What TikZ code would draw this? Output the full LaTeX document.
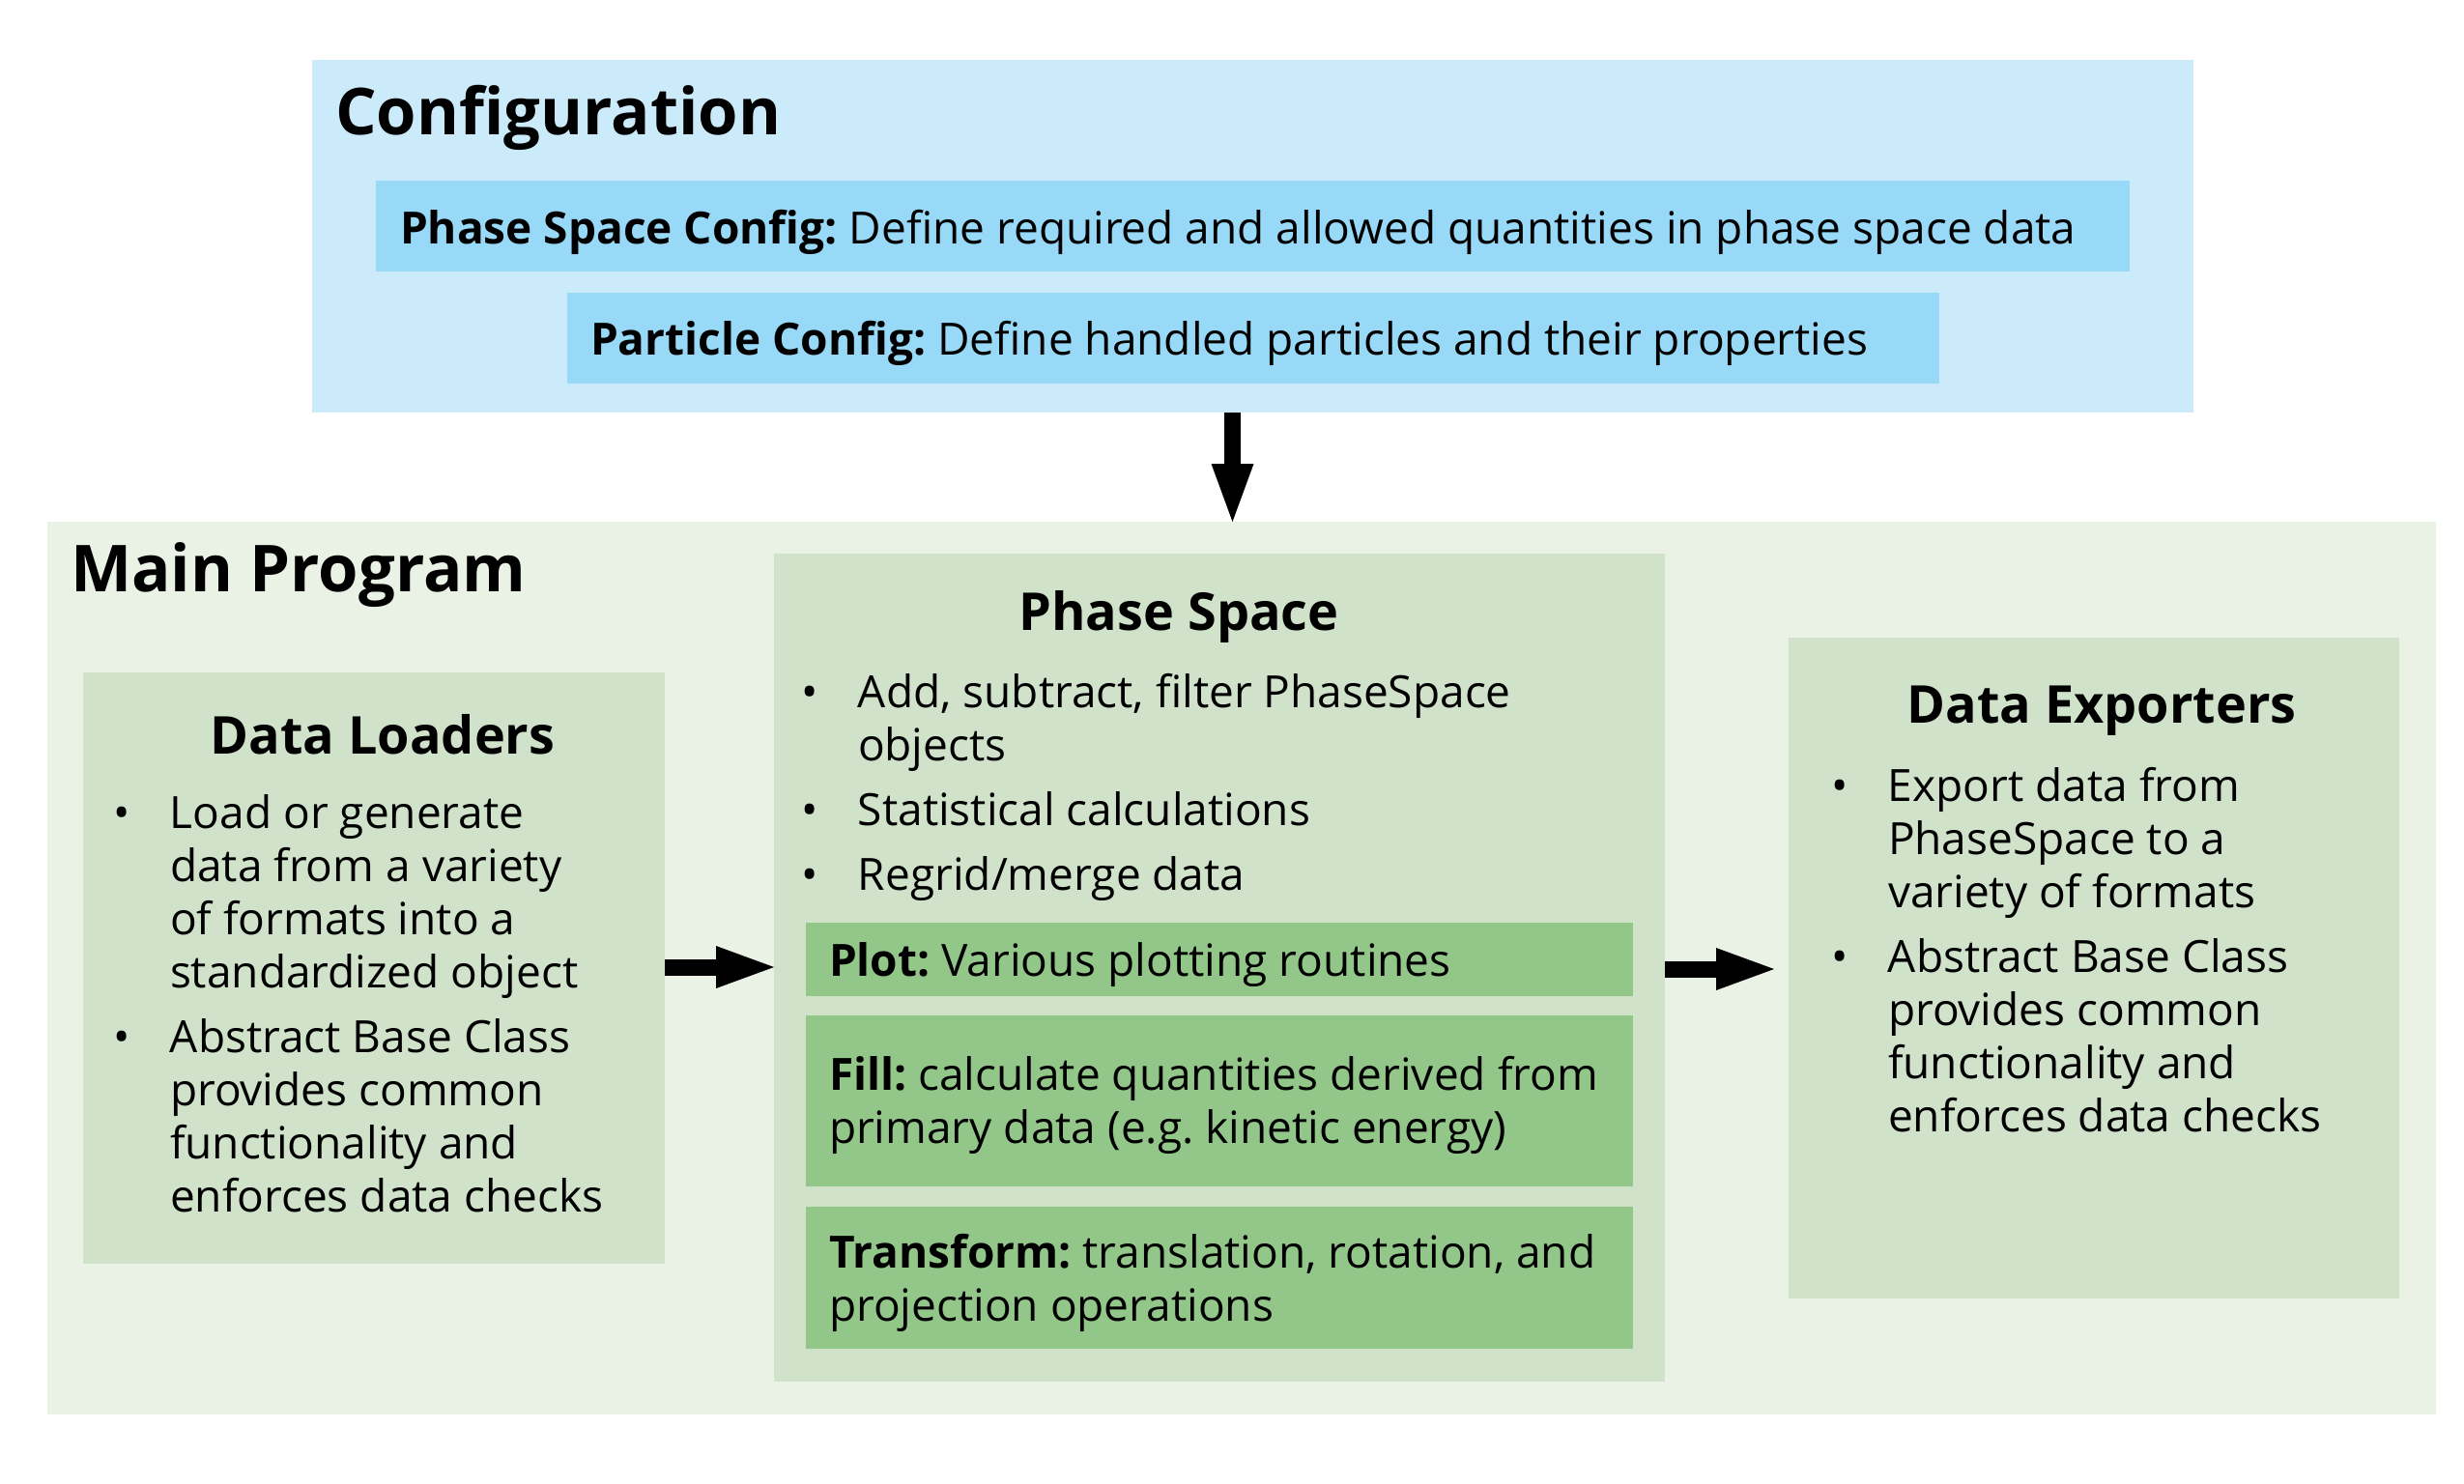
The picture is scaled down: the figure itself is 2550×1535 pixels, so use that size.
\documentclass[tikz,border=0pt]{standalone}
\usepackage{fontspec}
\setmainfont{Open Sans}
\usetikzlibrary{arrows.meta,calc}
\definecolor{cfgouter}{RGB}{204,235,250}
\definecolor{cfginner}{RGB}{151,217,246}
\definecolor{mainbg}{RGB}{234,242,230}
\definecolor{boxbg}{RGB}{208,227,202}
\definecolor{greenbox}{RGB}{147,199,137}
\newcommand{\bulletbox}{\makebox[59pt][l]{•}}
\newcommand{\indentbox}{\hspace*{59pt}}
\frenchspacing
\begin{document}
\frenchspacing
\begin{tikzpicture}[x=1pt,y=-1pt,
  area/.style={anchor=north west, inner sep=0pt, outer sep=0pt, draw=none},
  bodytext/.style={font=\fontsize{46}{55}\selectfont\frenchspacing, inner sep=0pt, outer sep=0pt},
  headtext/.style={font=\fontsize{54}{64}\selectfont\bfseries, inner sep=0pt, anchor=base},
  titletext/.style={font=\fontsize{67}{80}\selectfont\bfseries, inner sep=0pt, anchor=base west},
  bigarrow/.style={line width=17pt, -{Triangle[length=60pt,width=44pt,line width=0pt]}}]
\useasboundingbox (0,0) rectangle (2550,1535);
% boxes
\node[area, fill=cfgouter, minimum width=1947pt, minimum height=365pt] (cfg) at (323,62) {};
\node[area, fill=cfginner, minimum width=1815pt, minimum height=94pt] (pscfg) at (389,187) {};
\node[area, fill=cfginner, minimum width=1420pt, minimum height=94pt] (partcfg) at (587,303) {};
\node[area, fill=mainbg, minimum width=2472pt, minimum height=924pt] (main) at (49,540) {};
\node[area, fill=boxbg, minimum width=602pt, minimum height=612pt] (dl) at (86,696) {};
\node[area, fill=boxbg, minimum width=922pt, minimum height=857pt] (ps) at (801,573) {};
\node[area, fill=boxbg, minimum width=632pt, minimum height=684pt] (de) at (1851,660) {};
\node[area, fill=greenbox, minimum width=856pt, minimum height=76pt] (plot) at (834,955) {};
\node[area, fill=greenbox, minimum width=856pt, minimum height=177pt] (fill) at (834,1051) {};
\node[area, fill=greenbox, minimum width=856pt, minimum height=147pt] (trans) at (834,1249) {};
% titles
\node[titletext] (cfgtitle) at (347,139) {Configuration};
\node[titletext] (maintitle) at (73,612) {Main Program};
% config texts
\node[bodytext, anchor=base west] (pscfgtext) at (414,252) {\textbf{Phase Space Config:} Define required and allowed quantities in phase space data};
\node[bodytext, anchor=base west] (partcfgtext) at (611,367) {\textbf{Particle Config:} Define handled particles and their properties};
% headings
\node[headtext] (pshead) at (1220,652) {Phase Space};
\node[headtext] (dlhead) at (396,780) {Data Loaders};
\node[headtext] (dehead) at (2175,748) {Data Exporters};
% bullet lists
\node[bodytext, anchor=base west] (dllist) at (117,857) {\begin{tabular}[t]{@{}l@{}}
\bulletbox Load or generate\\
\indentbox data from a variety\\
\indentbox of formats into a\\
\indentbox standardized object\\[12pt]
\bulletbox Abstract Base Class\\
\indentbox provides common\\
\indentbox functionality and\\
\indentbox enforces data checks
\end{tabular}};
\node[bodytext, anchor=base west] (pslist) at (829,732) {\begin{tabular}[t]{@{}l@{}}
\bulletbox Add, subtract, filter PhaseSpace\\
\indentbox objects\\[12pt]
\bulletbox Statistical calculations\\[12pt]
\bulletbox Regrid/merge data
\end{tabular}};
\node[bodytext, anchor=base west] (delist) at (1895,829) {\begin{tabular}[t]{@{}l@{}}
\bulletbox Export data from\\
\indentbox PhaseSpace to a\\
\indentbox variety of formats\\[12pt]
\bulletbox Abstract Base Class\\
\indentbox provides common\\
\indentbox functionality and\\
\indentbox enforces data checks
\end{tabular}};
% green box texts
\node[bodytext, anchor=base west] (plottext) at (858,1010) {\textbf{Plot:} Various plotting routines};
\node[bodytext, anchor=base west] (filltext) at (858,1128) {\begin{tabular}[t]{@{}l@{}}
\textbf{Fill:} calculate quantities derived from\\
primary data (e.g. kinetic energy)
\end{tabular}};
\node[bodytext, anchor=base west] (transtext) at (858,1312) {\begin{tabular}[t]{@{}l@{}}
\textbf{Transform:} translation, rotation, and\\
projection operations
\end{tabular}};
% arrows
\coordinate (downx) at (1275.5,0);
\coordinate (lefty) at (0,1001);
\coordinate (righty) at (0,1003);
\draw[bigarrow] (cfg.south -| downx) -- (main.north -| downx);
\draw[bigarrow] (dl.east |- lefty) -- (ps.west |- lefty);
\draw[bigarrow, shorten >=15pt] (ps.east |- righty) -- (de.west |- righty);
\end{tikzpicture}
\end{document}
